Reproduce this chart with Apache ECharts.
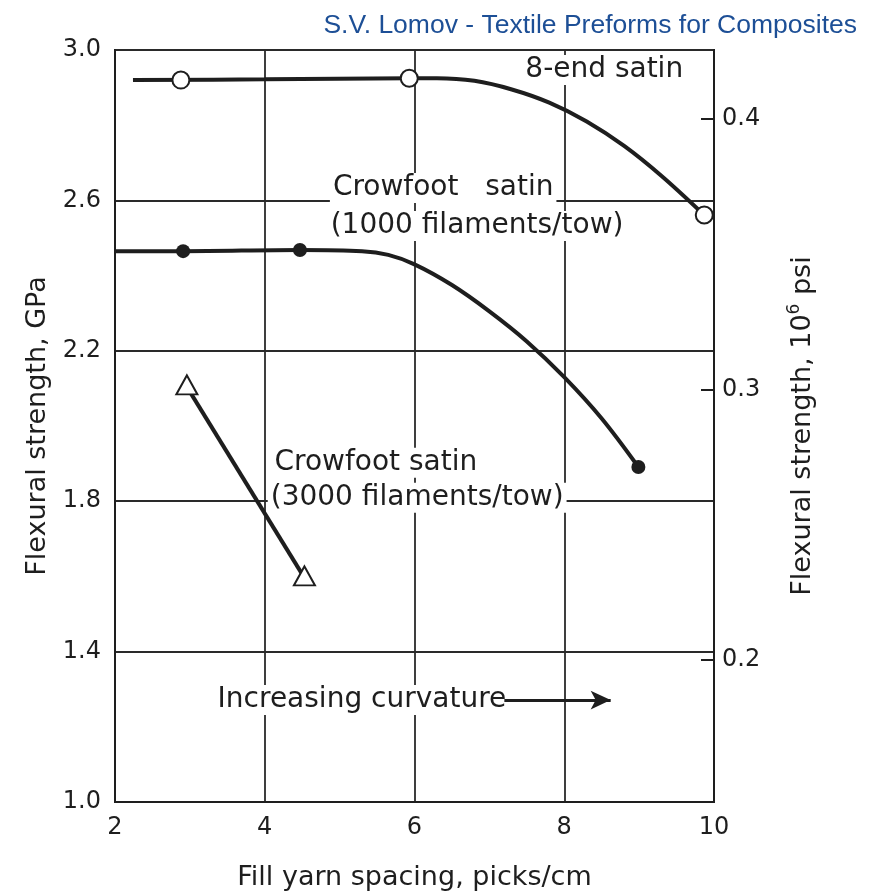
<!DOCTYPE html>
<html><head><meta charset="utf-8">
<script src="https://cdn.jsdelivr.net/npm/echarts@6/dist/echarts.min.js"></script>
<style>html,body{margin:0;padding:0;background:#fff}#c{width:871px;height:893px}</style>
</head><body><div id="c"></div>
<script>
// Data (x: picks/cm, y: GPa)
const satin8Curve = [[2.24,2.92],[4.0,2.922],[5.93,2.925],[6.3,2.925],[6.8,2.918],[7.3,2.895],[7.8,2.86],[8.3,2.81],[8.8,2.745],[9.3,2.665],[9.87,2.561]];
const satin8Points = [[2.88,2.92],[5.93,2.925],[9.87,2.561]];
const crow1000Curve = [[1.99,2.465],[2.91,2.465],[4.47,2.468],[5.3,2.465],[5.65,2.455],[6.0,2.43],[6.5,2.375],[7.0,2.305],[7.5,2.225],[8.0,2.13],[8.5,2.02],[8.99,1.891]];
const crow1000Points = [[2.91,2.465],[4.47,2.468],[8.99,1.891]];
const crow3000Points = [[2.96,2.104],[4.53,1.596]];
const arrowLine = [[7.2,1.271],[8.62,1.271]];
const xTicks = [2,4,6,8,10];
const psiTicks = [0.2,0.3,0.4];
const annotations = [
  {text:'8-end satin', x:7.44, y:2.947},
  {text:'Crowfoot   satin', x:4.87, y:2.633},
  {text:'(1000 filaments/tow)', x:4.84, y:2.532},
  {text:'Crowfoot satin', x:4.09, y:1.902},
  {text:'(3000 filaments/tow)', x:4.04, y:1.809},
  {text:'Increasing curvature', x:3.33, y:1.271}
];

const FONT = '"DejaVu Sans",sans-serif';
const INK = '#1e1e1e';
const chart = echarts.init(document.getElementById('c'), null, {renderer:'canvas'});
const option = {
  backgroundColor:'#ffffff',
  animation:false,
  title:{text:'S.V. Lomov - Textile Preforms for Composites', right:9, top:7,
    textStyle:{color:'#1d4f96', fontSize:26.5, fontWeight:'normal', fontFamily:'"Liberation Sans",Arial,sans-serif'}},
  grid:{left:115, right:157, top:50, bottom:91, show:true, borderColor:INK, borderWidth:2, backgroundColor:'transparent', outerBoundsMode:'none', containLabel:false},
  xAxis:{type:'value', min:2, max:10, interval:2,
    name:'Fill yarn spacing, picks/cm', nameLocation:'middle', nameGap:62,
    nameTextStyle:{fontSize:27, color:INK, fontFamily:FONT},
    axisLine:{show:true, lineStyle:{color:INK, width:2}}, axisTick:{show:false},
    axisLabel:{fontSize:24, color:INK, fontFamily:FONT, margin:14, formatter:v=>xTicks.includes(v)?String(v):''},
    splitLine:{show:true, lineStyle:{color:'#2a2a2a', width:1.8}}},
  yAxis:[{type:'value', min:1.0, max:3.0, interval:0.4,
    name:'Flexural strength, GPa', nameLocation:'middle', nameGap:58,
    nameTextStyle:{fontSize:27, color:INK, fontFamily:FONT},
    axisLine:{show:true, lineStyle:{color:INK, width:2}}, axisTick:{show:false},
    axisLabel:{fontSize:24, color:INK, fontFamily:FONT, margin:14, formatter:v=>v.toFixed(1)},
    splitLine:{show:true, lineStyle:{color:'#2a2a2a', width:1.8}}},
   {type:'value', position:'right', min:0.1475, max:0.4255,
    name:'{a|Flexural strength, 10}{s|6}{a| psi}', nameLocation:'middle', nameGap:72, nameRotate:90,
    nameTextStyle:{rich:{a:{fontSize:27, color:INK, fontFamily:FONT}, s:{fontSize:17, color:INK, fontFamily:FONT, verticalAlign:'top', padding:[0,0,16,0]}}},
    axisLine:{show:true, lineStyle:{color:INK, width:2}},
    axisTick:{show:true, inside:true, length:13, lineStyle:{color:INK, width:2}, customValues:psiTicks},
    axisLabel:{fontSize:24, color:INK, fontFamily:FONT, margin:8, customValues:psiTicks, formatter:v=>v.toFixed(1)},
    splitLine:{show:false}}],
  series:[
    {type:'line', data:satin8Curve, smooth:0.35, showSymbol:false, lineStyle:{color:INK, width:4}, z:3},
    {type:'line', data:crow1000Curve, smooth:0.35, showSymbol:false, lineStyle:{color:INK, width:4}, z:3},
    {type:'line', data:crow3000Points, showSymbol:false, lineStyle:{color:INK, width:4}, z:3,
      markLine:{silent:true, symbol:['none','arrow'], symbolSize:[14,20], label:{show:false},
        lineStyle:{color:INK, width:3, type:'solid'}, data:[[{coord:arrowLine[0]},{coord:arrowLine[1]}]]}},
    {type:'scatter', data:satin8Points, symbol:'circle', symbolSize:17, itemStyle:{color:'#fff', borderColor:INK, borderWidth:2, opacity:1}, z:5},
    {type:'scatter', data:crow1000Points, symbol:'circle', symbolSize:14, itemStyle:{color:INK, opacity:1}, z:5},
    {type:'scatter', data:crow3000Points, symbol:'triangle', symbolSize:[21,19], symbolOffset:[0,-2], itemStyle:{color:'#fff', borderColor:INK, borderWidth:2, opacity:1}, z:5}
  ]
};
chart.setOption(option);
const g = annotations.map(a=>{
  const p = chart.convertToPixel({gridIndex:0}, [a.x, a.y]);
  return {type:'text', x:p[0], y:p[1], z:4,
    style:{text:a.text, fontSize:28, fill:INK, fontFamily:FONT, verticalAlign:'middle', align:'left',
      backgroundColor:'#fff', padding:[1,3,1,3]}};
});
chart.setOption({graphic:g});
</script></body></html>
